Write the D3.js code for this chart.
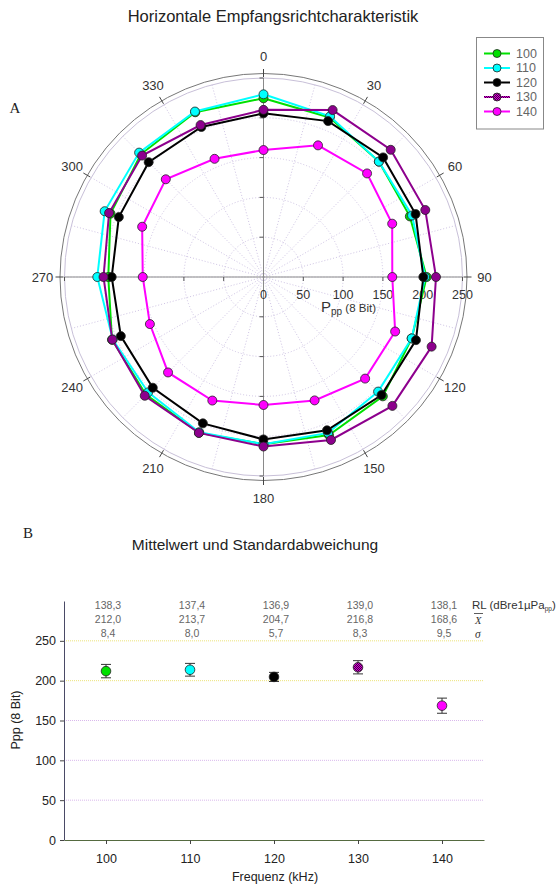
<!DOCTYPE html>
<html>
<head>
<meta charset="utf-8">
<script src="https://cdn.jsdelivr.net/npm/d3@7"></script>
<style>
  html, body { margin: 0; padding: 0; background: #fff; }
  svg { display: block; }
  text { font-family: "Liberation Sans", Arial, sans-serif; }
  .serif { font-family: "Liberation Serif", "Times New Roman", serif; }
</style>
</head>
<body>
<svg id="chart" width="560" height="888"></svg>
<script>
// ---- Polar data: peak-to-peak amplitude (8 bit) per bearing, one array per frequency ----
const bearings = [0, 22.5, 45, 67.5, 90, 112.5, 135, 157.5, 180, 202.5, 225, 247.5, 270, 292.5, 315, 337.5];
const amp100 = [224.5, 217, 205, 199, 205, 201.5, 212, 215, 210, 212, 209, 206, 195, 208, 218, 224];
const amp110 = [229.5, 218.5, 205, 202, 203, 201.5, 203.6, 212, 210, 211, 205, 205, 208.8, 216, 221, 225];
const amp120 = [205.6, 212, 212.5, 206.8, 200.8, 207.3, 209.7, 208.5, 204, 199, 196.7, 194, 190.7, 196.7, 204, 204];
const amp130 = [210, 227, 226, 220, 216.7, 228.6, 229, 221.6, 213, 212, 211, 205.6, 201, 210, 215.7, 206.6];
const amp140 = [159.5, 179, 184, 175, 161.8, 179, 180.5, 167.8, 160.8, 168, 169.6, 154.5, 151.7, 165, 173.6, 160.7];

const seriesNames = ["100", "110", "120", "130", "140"];
const seriesColors = ["#00e000", "#00ffff", "#000000", "url(#hatch130)", "#ff00ff"];
const seriesAmps = [amp100, amp110, amp120, amp130, amp140];

const angleTicks = [0, 30, 60, 90, 120, 150, 180, 210, 240, 270, 300, 330];
const radialTicks = [0, 50, 100, 150, 200, 250];

// ---- Summary data: frequency, mean, standard deviation, receive level ----
const freqs = [100, 110, 120, 130, 140];
const means = [212.0, 213.7, 204.7, 216.8, 168.6];
const sds = [8.4, 8.0, 5.7, 8.3, 9.5];
const rlValues = [138.3, 137.4, 136.9, 139.0, 138.1];
const yTicks = [0, 50, 100, 150, 200, 250];

const svg = d3.select("#chart");
const defs = svg.append("defs");

// checkered fill used for the 130 kHz series
const pat = defs.append("pattern").attr("id", "hatch130")
  .attr("patternUnits", "userSpaceOnUse").attr("width", 2).attr("height", 2);
pat.append("rect").attr("width", 2).attr("height", 2).attr("fill", "#d000d0");
pat.append("rect").attr("width", 1).attr("height", 1).attr("fill", "#4a004a");
pat.append("rect").attr("x", 1).attr("y", 1).attr("width", 1).attr("height", 1).attr("fill", "#4a004a");

const fmt = d => d.toFixed(1).replace(".", ",");

// ================= A: polar plot =================
const cx = 263.5, cy = 277;
const rScale = d3.scaleLinear().domain([0, 250]).range([0, 199]);
const rad = a => a * Math.PI / 180;
const px = (a, r) => cx + r * Math.sin(rad(a));
const py = (a, r) => cy - r * Math.cos(rad(a));

svg.append("text").attr("x", 273).attr("y", 16).attr("text-anchor", "middle")
  .attr("dominant-baseline", "central").attr("font-size", 16.5).attr("fill", "#222")
  .text("Horizontale Empfangsrichtcharakteristik");
svg.append("text").attr("class", "serif").attr("x", 15).attr("y", 108)
  .attr("text-anchor", "middle").attr("dominant-baseline", "central")
  .attr("font-size", 15).attr("fill", "#222").text("A");

const polar = svg.append("g");

// concentric grid rings
polar.selectAll(".ring").data(radialTicks.slice(1)).join("circle")
  .attr("cx", cx).attr("cy", cy).attr("r", d => rScale(d))
  .attr("fill", "none")
  .attr("stroke", d => d === 250 ? "#c8c0d8" : "#cfc4e4")
  .attr("stroke-width", 1)
  .attr("stroke-dasharray", d => d === 250 ? null : "1,2");

// spokes every 15 degrees
const spokes = d3.range(0, 360, 15);
polar.selectAll(".spoke").data(spokes).join("line")
  .attr("x1", cx).attr("y1", cy)
  .attr("x2", d => px(d, rScale(250))).attr("y2", d => py(d, rScale(250)))
  .attr("stroke", "#cfc4e4").attr("stroke-width", 1).attr("stroke-dasharray", "1,2");

// outer frame circle and angular ticks
polar.append("circle").attr("cx", cx).attr("cy", cy).attr("r", 203.5)
  .attr("fill", "none").attr("stroke", "#777").attr("stroke-width", 1);
polar.selectAll(".atick").data(angleTicks).join("line")
  .attr("x1", d => px(d, 200)).attr("y1", d => py(d, 200))
  .attr("x2", d => px(d, 208)).attr("y2", d => py(d, 208))
  .attr("stroke", "#444").attr("stroke-width", 1);
polar.selectAll(".alabel").data(angleTicks).join("text")
  .attr("x", d => px(d, 221)).attr("y", d => py(d, 221))
  .attr("text-anchor", "middle").attr("dominant-baseline", "central")
  .attr("font-size", 13).attr("fill", "#333").text(d => d);

// cross-hair axes through the centre with radial ticks
polar.append("line").attr("x1", cx - rScale(250)).attr("x2", cx + rScale(250))
  .attr("y1", cy).attr("y2", cy).attr("stroke", "#8a8a8a").attr("stroke-width", 1);
polar.append("line").attr("y1", cy - rScale(250)).attr("y2", cy + rScale(250))
  .attr("x1", cx).attr("x2", cx).attr("stroke", "#8a8a8a").attr("stroke-width", 1);
const rt = radialTicks.slice(1);
polar.selectAll(".htick").data(rt.flatMap(v => [v, -v])).join("line")
  .attr("x1", d => cx + Math.sign(d) * rScale(Math.abs(d))).attr("x2", d => cx + Math.sign(d) * rScale(Math.abs(d)))
  .attr("y1", cy).attr("y2", cy + 4).attr("stroke", "#555");
polar.selectAll(".vtick").data(rt.flatMap(v => [v, -v])).join("line")
  .attr("y1", d => cy + Math.sign(d) * rScale(Math.abs(d))).attr("y2", d => cy + Math.sign(d) * rScale(Math.abs(d)))
  .attr("x1", cx).attr("x2", cx - 4).attr("stroke", "#555");
polar.selectAll(".rlabel").data(radialTicks).join("text")
  .attr("x", d => cx + rScale(d)).attr("y", 295)
  .attr("text-anchor", "middle").attr("dominant-baseline", "central")
  .attr("font-size", 12.5).attr("fill", "#333").text(d => d);
const ppl = polar.append("text").attr("x", 321).attr("y", 312).attr("fill", "#333");
ppl.append("tspan").attr("font-size", 15).text("P");
ppl.append("tspan").attr("font-size", 10).attr("dy", 3).text("pp");
ppl.append("tspan").attr("font-size", 11.5).attr("dy", -3).text(" (8 Bit)");

// series polygons and markers
const lineR = d3.lineRadial()
  .angle((d, i) => rad(bearings[i]))
  .radius(d => rScale(d))
  .curve(d3.curveLinearClosed);

seriesAmps.forEach((vals, si) => {
  const g = polar.append("g").attr("transform", `translate(${cx},${cy})`);
  g.append("path").attr("d", lineR(vals)).attr("fill", "none")
    .attr("stroke", seriesColors[si]).attr("stroke-width", 2);
  g.selectAll("circle").data(vals).join("circle")
    .attr("cx", (d, i) => rScale(d) * Math.sin(rad(bearings[i])))
    .attr("cy", (d, i) => -rScale(d) * Math.cos(rad(bearings[i])))
    .attr("r", 4.5).attr("fill", seriesColors[si])
    .attr("stroke", "#222").attr("stroke-width", 0.8);
});

// legend
const lg = svg.append("g");
lg.append("rect").attr("x", 476.5).attr("y", 37.5).attr("width", 67).attr("height", 91.5)
  .attr("fill", "#fff").attr("stroke", "#888").attr("stroke-width", 1);
seriesNames.forEach((n, i) => {
  const y = 53.5 + i * 14.5;
  lg.append("line").attr("x1", 484).attr("x2", 510).attr("y1", y).attr("y2", y)
    .attr("stroke", seriesColors[i]).attr("stroke-width", 2);
  lg.append("circle").attr("cx", 497).attr("cy", y).attr("r", 4)
    .attr("fill", seriesColors[i]).attr("stroke", "#222").attr("stroke-width", 0.8);
  lg.append("text").attr("x", 516).attr("y", y).attr("dominant-baseline", "central")
    .attr("font-size", 12.5).attr("fill", "#666").text(n);
});

// ================= B: mean and standard deviation =================
svg.append("text").attr("class", "serif").attr("x", 28).attr("y", 533)
  .attr("text-anchor", "middle").attr("dominant-baseline", "central")
  .attr("font-size", 15).attr("fill", "#222").text("B");
svg.append("text").attr("x", 255).attr("y", 544).attr("text-anchor", "middle")
  .attr("dominant-baseline", "central").attr("font-size", 15.5).attr("fill", "#222")
  .text("Mittelwert und Standardabweichung");

const x = d3.scaleLinear().domain([95, 145]).range([64, 484]);
const y = d3.scaleLinear().domain([0, 300]).range([840, 601]);

// horizontal grid
svg.append("g").selectAll("line").data(yTicks.slice(1)).join("line")
  .attr("x1", 64).attr("x2", 484).attr("y1", d => y(d)).attr("y2", d => y(d))
  .attr("stroke", d => d >= 200 ? "#ece37a" : "#d9b8ec")
  .attr("stroke-width", 1).attr("stroke-dasharray", "1,1");

const yAxis = svg.append("g").attr("transform", "translate(64,0)")
  .call(d3.axisLeft(y).tickValues(yTicks).tickSize(4).tickSizeOuter(0).tickFormat(d3.format("d")));
yAxis.select(".domain").attr("stroke", "#4a4a66");
yAxis.selectAll(".tick line").attr("stroke", "#444");
yAxis.selectAll(".tick text").attr("font-size", 12.5).attr("fill", "#222")
  .attr("font-family", "Liberation Sans, Arial, sans-serif").attr("x", -8);

const xAxis = svg.append("g").attr("transform", "translate(0,840)")
  .call(d3.axisBottom(x).tickValues(freqs).tickSize(4).tickSizeOuter(0).tickFormat(d3.format("d")));
xAxis.select(".domain").attr("stroke", "#556a40");
xAxis.selectAll(".tick line").attr("stroke", "#444");
xAxis.selectAll(".tick text").attr("font-size", 12.5).attr("fill", "#222")
  .attr("font-family", "Liberation Sans, Arial, sans-serif").attr("dy", null)
  .attr("y", 19).attr("dominant-baseline", "central");

svg.append("text").attr("transform", "translate(16,720) rotate(-90)")
  .attr("text-anchor", "middle").attr("dominant-baseline", "central")
  .attr("font-size", 12.5).attr("fill", "#222").text("Ppp (8 Bit)");
svg.append("text").attr("x", 275).attr("y", 877).attr("text-anchor", "middle")
  .attr("dominant-baseline", "central").attr("font-size", 12.5).attr("fill", "#222")
  .text("Frequenz (kHz)");

// error bars and means
const eb = svg.append("g");
freqs.forEach((f, i) => {
  const xc = x(f);
  eb.append("line").attr("x1", xc).attr("x2", xc)
    .attr("y1", y(means[i] - sds[i])).attr("y2", y(means[i] + sds[i]))
    .attr("stroke", "#333").attr("stroke-width", 1);
  [means[i] - sds[i], means[i] + sds[i]].forEach(v => {
    eb.append("line").attr("x1", xc - 5).attr("x2", xc + 5).attr("y1", y(v)).attr("y2", y(v))
      .attr("stroke", "#333").attr("stroke-width", 1);
  });
  eb.append("circle").attr("cx", xc).attr("cy", y(means[i])).attr("r", 4.8)
    .attr("fill", seriesColors[i]).attr("stroke", "#222").attr("stroke-width", 0.8);
});

// value rows above the plot
const rows = [rlValues, means, sds];
const rowY = [605, 619, 633];
rows.forEach((vals, r) => {
  svg.append("g").selectAll("text").data(vals).join("text")
    .attr("x", (d, i) => x(freqs[i]) + 2).attr("y", rowY[r])
    .attr("text-anchor", "middle").attr("dominant-baseline", "central")
    .attr("font-size", 10.5).attr("fill", "#666").text(d => fmt(d));
});
const rl = svg.append("text").attr("x", 472).attr("y", 605).attr("dominant-baseline", "central")
  .attr("font-size", 11.5).attr("fill", "#333");
rl.append("tspan").text("RL (dBre1µPa");
rl.append("tspan").attr("font-size", 6.5).attr("dy", 3).text("pp");
rl.append("tspan").attr("dy", -3).text(")");
svg.append("text").attr("class", "serif").attr("x", 475).attr("y", 620)
  .attr("dominant-baseline", "central").attr("font-size", 10.5).attr("font-style", "italic")
  .attr("fill", "#333").text("X");
svg.append("line").attr("x1", 474).attr("x2", 483).attr("y1", 613.5).attr("y2", 613.5)
  .attr("stroke", "#333").attr("stroke-width", 0.8);
svg.append("text").attr("class", "serif").attr("x", 475).attr("y", 634)
  .attr("dominant-baseline", "central").attr("font-size", 11.5).attr("font-style", "italic")
  .attr("fill", "#333").text("σ");
</script>
</body>
</html>
